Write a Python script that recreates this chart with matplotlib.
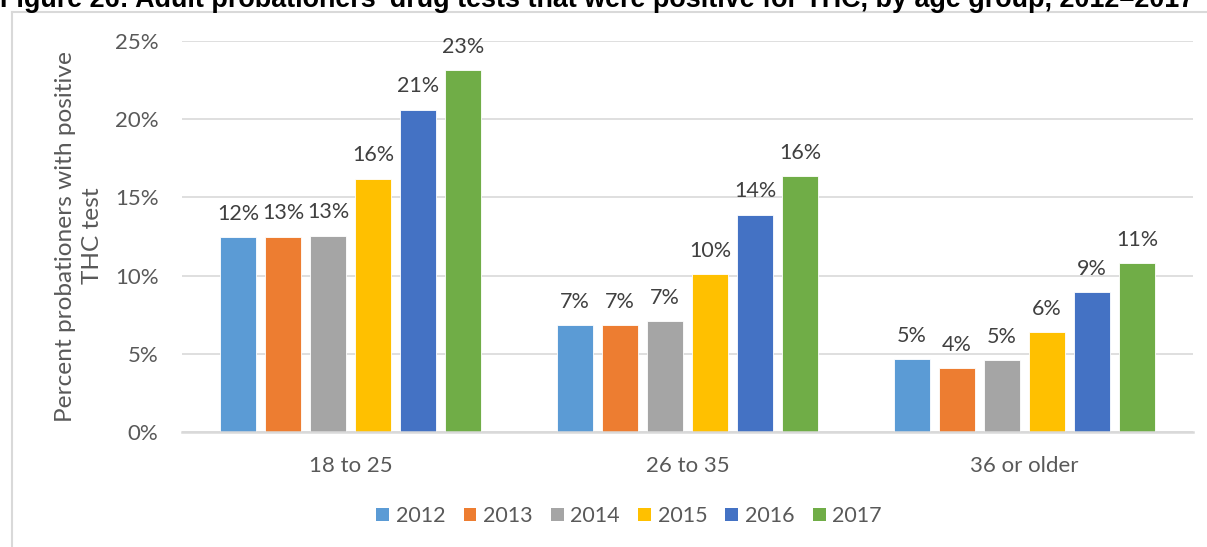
import matplotlib
matplotlib.use("Agg")
import matplotlib.pyplot as plt
from matplotlib.patches import Patch
from matplotlib.lines import Line2D
import numpy as np

title = "Figure 26: Adult probationers' drug tests that were positive for THC, by age group, 2012\u20132017"
categories = ["18 to 25", "26 to 35", "36 or older"]
years = ["2012", "2013", "2014", "2015", "2016", "2017"]
values = {
    "2012": [12.45, 6.85, 4.65],
    "2013": [12.50, 6.85, 4.10],
    "2014": [12.55, 7.10, 4.60],
    "2015": [16.20, 10.10, 6.40],
    "2016": [20.60, 13.90, 8.95],
    "2017": [23.15, 16.35, 10.80],
}
labels = {
    "2012": ["12%", "7%", "5%"],
    "2013": ["13%", "7%", "4%"],
    "2014": ["13%", "7%", "5%"],
    "2015": ["16%", "10%", "6%"],
    "2016": ["21%", "14%", "9%"],
    "2017": ["23%", "16%", "11%"],
}
colors = ["#5B9BD5", "#ED7D31", "#A5A5A5", "#FFC000", "#4472C4", "#70AD47"]
yticks = [0, 5, 10, 15, 20, 25]
ylabel = "Percent probationers with positive\nTHC test"

FONT = "Lato"
FS = 15.5
TXT = "#595959"
LBL = "#404040"
GRID = "#D9D9D9"

W, H = 1207, 547
fig = plt.figure(figsize=(W / 100, H / 100), dpi=100)
plt.rcParams["font.family"] = [FONT, "DejaVu Sans"]

ax = fig.add_axes([182 / W, 1 - 432 / H, (1193 - 182) / W, (432 - 41) / H])
x = np.arange(len(categories))
bw = 36 / 337
pitch = 45 / 337
for i, (yr, c) in enumerate(zip(years, colors)):
    xs = x + (i - 2.5) * pitch
    ax.bar(xs, values[yr], width=bw, color=c, edgecolor="white", linewidth=0.6, zorder=3)
    for xi, v, t in zip(xs, values[yr], labels[yr]):
        ax.annotate(t, (xi, v), xytext=(0, 12.5), textcoords="offset points",
                    ha="center", va="baseline", fontsize=FS, color=LBL, family=FONT)

ax.set_xlim(-0.5, len(categories) - 0.5)
ax.set_ylim(0, 25)
ax.set_yticks(yticks)
ax.set_yticklabels([f"{t}%" for t in yticks])
ax.set_xticks(x)
ax.set_xticklabels(categories)
ax.tick_params(axis="both", length=0, labelsize=FS + 0.5, labelcolor=TXT)
ax.tick_params(axis="y", pad=17)
ax.tick_params(axis="x", pad=17)
for s in ["top", "right", "left"]:
    ax.spines[s].set_visible(False)
ax.spines["bottom"].set_color(GRID)
ax.spines["bottom"].set_linewidth(1.8)
ax.spines["bottom"].set_zorder(4)
ax.yaxis.grid(True, color=GRID, linewidth=1.2, zorder=0)
ax.set_axisbelow(True)

fig.text(79 / W, 1 - 236 / H, ylabel, rotation=90, ha="center", va="center",
         multialignment="center", fontsize=17.6, color=TXT, linespacing=1.4)

handles = [Patch(facecolor=c, edgecolor="none", label=y) for y, c in zip(years, colors)]
fig.legend(handles=handles, loc="center", bbox_to_anchor=(629 / W, 1 - 516 / H),
           ncol=6, frameon=False, fontsize=FS, labelcolor=TXT,
           handlelength=0.6, handleheight=0.6, handletextpad=0.3, columnspacing=0.85)

# chart frame
fig.add_artist(Line2D([12 / W, 1], [1 - 12 / H, 1 - 12 / H], color=GRID, lw=1.5, transform=fig.transFigure))
fig.add_artist(Line2D([12 / W, 12 / W], [0, 1 - 12 / H], color=GRID, lw=1.5, transform=fig.transFigure))

# title, partially cut off at the top as in the reference
t = fig.text(0, 1 - 7 / H, title, ha="left", va="baseline", fontsize=16,
             fontweight="bold", color="black", family=["Liberation Sans", "DejaVu Sans"])
r = fig.canvas.get_renderer()
wpx = t.get_window_extent(r).width
t.set_fontsize(16 * 1190 / wpx)

fig.savefig("out.png", dpi=100)
